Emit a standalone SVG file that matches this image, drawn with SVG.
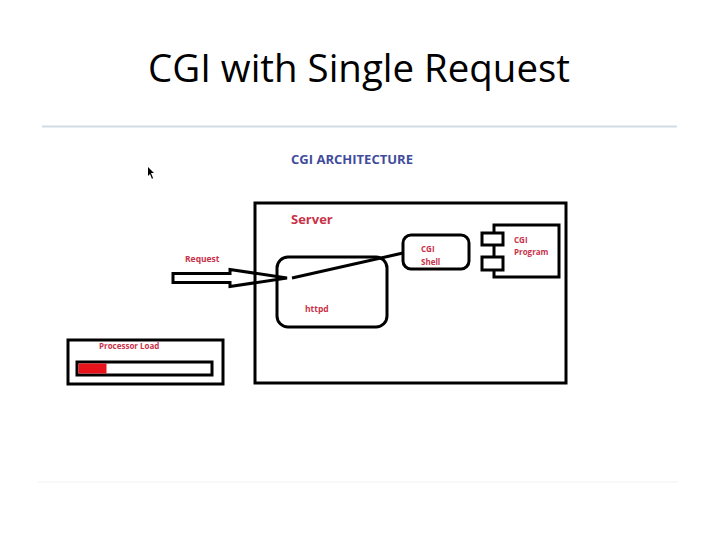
<svg xmlns="http://www.w3.org/2000/svg" width="720" height="540" viewBox="0 0 720 540">
<style>
.box{fill:#fff;stroke:#000;stroke-width:3}
.lbl{font-family:"Open Sans","Liberation Sans",sans-serif;font-weight:bold;fill:#c8324a}
.conn{stroke:#000;stroke-width:3;fill:none}
</style>
<rect width="720" height="540" fill="#fff"/>
<text x="359" y="82" text-anchor="middle" font-family="Open Sans, Liberation Sans, sans-serif" font-size="38" textLength="422" lengthAdjust="spacingAndGlyphs" fill="#000">CGI with Single Request</text>
<line x1="42" y1="126.5" x2="677" y2="126.5" stroke="#d3dbe3" stroke-width="2"/>
<line x1="37" y1="482" x2="678" y2="482" stroke="#f6f6f6" stroke-width="1.5"/>
<polygon points="148,167 148,176 150,174 152,179 153,178 151,173 154,173" fill="#000"/>
<text x="291" y="164" font-family="Open Sans, Liberation Sans, sans-serif" font-weight="bold" font-size="13" textLength="122" lengthAdjust="spacingAndGlyphs" fill="#3f4c9c">CGI ARCHITECTURE</text>
<g id="server">
<rect class="box" x="255" y="203" width="311" height="180"/>
<text class="lbl" x="291" y="224" font-size="13">Server</text>
</g>
<g id="httpd">
<rect class="box" x="277" y="257" width="110" height="70" rx="11"/>
<text class="lbl" x="305" y="312" font-size="8.5">httpd</text>
</g>
<g id="cgi-shell">
<rect class="box" x="403" y="235" width="66" height="34" rx="8"/>
<text class="lbl" x="421" y="252" font-size="8">CGI</text>
<text class="lbl" x="421" y="265" font-size="8">Shell</text>
</g>
<g id="cgi-program">
<rect class="box" x="494" y="225" width="65" height="52"/>
<rect class="box" x="482" y="233" width="21" height="12"/>
<rect class="box" x="482" y="257" width="21" height="13"/>
<text class="lbl" x="514" y="243" font-size="8">CGI</text>
<text class="lbl" x="514" y="255" font-size="8">Program</text>
</g>
<g id="processor-load">
<rect class="box" x="68" y="340" width="155" height="44"/>
<text class="lbl" x="99" y="349" font-size="8">Processor Load</text>
<rect x="77" y="362" width="135" height="13" fill="#fff" stroke="#000" stroke-width="3"/>
<rect x="78.5" y="363.5" width="28" height="10" fill="#e8141c"/>
</g>
<g id="connectors">
<text class="lbl" x="185" y="262" font-size="8.5">Request</text>
<polygon class="conn" points="173,273.5 230,273.5 230,269.5 287,278 230,286.5 230,282.5 173,282.5" stroke-width="2.5"/>
<line class="conn" x1="292" y1="278" x2="403" y2="253"/>
</g>
</svg>
